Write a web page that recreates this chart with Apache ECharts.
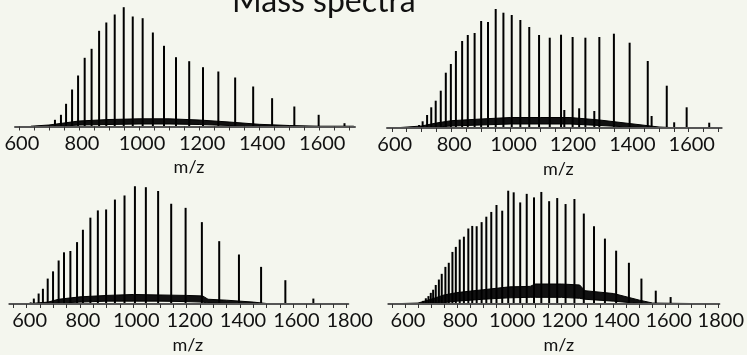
<!DOCTYPE html>
<html>
<head>
<meta charset="utf-8">
<script src="https://cdn.jsdelivr.net/npm/echarts@6/dist/echarts.min.js"></script>
<style>
  html, body { margin: 0; padding: 0; background: #f4f6ee; }
  #chart { width: 747px; height: 355px; }
</style>
</head>
<body>
<div id="chart"></div>
<script>
// 四个质谱图的数据 (m/z, 强度), 从图上读出来的
const p1Mz = [720, 740, 757, 777, 797, 819, 842, 867, 891, 919, 949, 979, 1012, 1046, 1083, 1123, 1167, 1213, 1264, 1320, 1380, 1443, 1517, 1598, 1684];
const p1Int = [6.7, 11.7, 22.7, 37, 51, 68.7, 77.7, 95.7, 104, 112, 119.3, 110, 108.3, 94, 80.7, 69.3, 65.3, 59.3, 55, 49, 40, 28.3, 20, 11.7, 3.3];
const p1NoiseMz = [640, 700, 750, 800, 900, 1000, 1100, 1200, 1300, 1400, 1500, 1600, 1715];
const p1NoiseLo = [0, 0, 0.5, 1.5, 2, 2.5, 2.5, 2, 1, 0.5, 0, 0, 0];
const p1NoiseHi = [0.3, 1.5, 3.5, 5.5, 7, 7.7, 7.7, 6.5, 4.5, 2.2, 1, 0.3, 0.3];

const p2Mz = [692, 704, 719, 733, 748, 765, 782, 799, 816, 837, 856, 879, 901, 924, 950, 976, 1004, 1033, 1063, 1096, 1132, 1170, 1181, 1209, 1231, 1252, 1282, 1299, 1348, 1401, 1462, 1475, 1526, 1551, 1593, 1669];
const p2Int = [3, 6.7, 13, 20.7, 27.3, 37.3, 55.3, 64, 77, 87, 93, 95, 107, 106, 119, 115.3, 113, 108, 101, 93, 90.3, 93.3, 18, 91, 19.7, 90.3, 17, 91, 94.3, 85.3, 67, 12, 42.3, 5.7, 20.7, 5.3];
const p2NoiseMz = [620, 700, 750, 800, 900, 1000, 1100, 1200, 1300, 1400, 1500, 1550, 1709];
const p2NoiseLo = [0, 0, 1, 2, 3, 4, 4, 4, 2.5, 1, 0, 0, 0];
const p2NoiseHi = [0.3, 2, 5, 7.3, 9, 10.5, 10.5, 10.5, 8, 4.5, 1, 0.3, 0.3];

const p3Mz = [615, 627, 645, 661, 679, 699, 720, 740, 764, 789, 811, 839, 867, 898, 931, 967, 1006, 1047, 1093, 1142, 1196, 1257, 1322, 1396, 1479, 1570, 1675];
const p3Int = [1.7, 5.7, 11, 16, 26.7, 34.3, 45.7, 54.3, 55.7, 65, 78, 90.7, 98.3, 99.3, 109.7, 114, 123.7, 122.7, 118.7, 105.3, 101, 86, 66, 52, 39, 25, 5.7];
const p3NoiseMz = [600, 680, 720, 800, 900, 1000, 1100, 1200, 1260, 1280, 1350, 1450, 1500, 1600, 1800];
const p3NoiseLo = [0, 0, 1, 2, 3, 3, 3, 2.5, 2, 1, 0.5, 0, 0, 0, 0];
const p3NoiseHi = [0.2, 2, 5, 7.5, 9, 10, 9.5, 9, 8.5, 5, 4, 2, 0.5, 0.2, 0.2];

const p4Mz = [670, 680, 690, 699, 708, 718, 730, 741, 755, 768, 782, 795, 810, 826, 843, 858, 875, 894, 912, 931, 951, 973, 996, 1017, 1042, 1067, 1095, 1123, 1153, 1184, 1216, 1250, 1286, 1325, 1367, 1410, 1459, 1507, 1562, 1619];
const p4Int = [3.3, 6, 8.3, 11.7, 15, 20, 25.7, 31.7, 39, 43.3, 54.7, 60, 67.7, 70.7, 79.3, 82, 81.7, 86, 91.7, 96.7, 104, 98, 119, 117.3, 106.7, 115.7, 112, 117.7, 108, 111.3, 105, 110.3, 95, 81.7, 68.7, 56, 43.3, 26.7, 14, 7.3];
const p4NoiseMz = [560, 650, 700, 750, 800, 900, 1000, 1080, 1100, 1200, 1270, 1290, 1400, 1500, 1550, 1700, 1804];
const p4NoiseLo = [0, 0, 0.5, 1.5, 3, 5, 6.5, 7, 7, 7, 6, 5, 3, 0.5, 0, 0, 0];
const p4NoiseHi = [0.3, 1, 5, 9.5, 12, 15, 18, 18.5, 21, 21, 20, 14, 11, 4, 1, 0.5, 0.3];

// 刻度
const ticksTop = [600, 650, 700, 750, 800, 850, 900, 950, 1000, 1050, 1100, 1150, 1200, 1250, 1300, 1350, 1400, 1450, 1500, 1550, 1600, 1650, 1700];
const labelsTop = [600, 800, 1000, 1200, 1400, 1600];
const ticksBottom = [550, 600, 650, 700, 750, 800, 850, 900, 950, 1000, 1050, 1100, 1150, 1200, 1250, 1300, 1350, 1400, 1450, 1500, 1550, 1600, 1650, 1700, 1750, 1800];
const labelsBottom = [600, 800, 1000, 1200, 1400, 1600, 1800];

const zip = (xs, ys) => xs.map((x, i) => [x, ys[i]]);
const FONT = "Lato";
const BG = "#f4f6ee";

const chart = echarts.init(document.getElementById("chart"));

// x轴
function makeX(gi, min, max, ticks, labels, namePad) {
  return {
    gridIndex: gi,
    type: "value",
    min: min,
    max: max,
    z: 5,
    name: "m/z",
    nameLocation: "middle",
    nameGap: 32,
    nameTextStyle: {
      fontFamily: FONT,
      fontSize: 18,
      color: "#111",
      padding: [0, 0, 0, namePad],
    },
    splitLine: { show: false },
    axisLine: { show: true, lineStyle: { color: "#555", width: 2 } },
    axisTick: {
      show: true,
      customValues: ticks,
      length: 4,
      lineStyle: { color: "#333", width: 1 },
    },
    axisLabel: {
      customValues: labels,
      formatter: (v) => String(v),
      fontFamily: FONT,
      fontSize: 20,
      color: "#111",
      margin: 7,
      padding: [0, 0, 0, 6],
    },
  };
}

function makeY(gi) {
  return { gridIndex: gi, type: "value", min: 0, max: 125, show: false };
}

// 每个面板三个系列: 噪声上沿(黑色填充), 噪声下沿(底色盖住), 峰
function panelSeries(gi, mz, inten, nMz, lo, hi) {
  return [
    {
      type: "line",
      xAxisIndex: gi,
      yAxisIndex: gi,
      data: zip(nMz, hi),
      showSymbol: false,
      lineStyle: { color: "#000", width: 1 },
      areaStyle: { color: "#111", opacity: 1 },
      z: 2,
    },
    {
      type: "line",
      xAxisIndex: gi,
      yAxisIndex: gi,
      data: zip(nMz, lo),
      showSymbol: false,
      lineStyle: { color: "#000", width: 1 },
      areaStyle: { color: BG, opacity: 1 },
      z: 3,
    },
    {
      type: "bar",
      xAxisIndex: gi,
      yAxisIndex: gi,
      data: zip(mz, inten),
      barWidth: 2,
      itemStyle: { color: "#000" },
      z: 4,
    },
  ];
}

const option = {
  backgroundColor: BG,
  animation: false,
  title: {
    text: "Mass spectra",
    left: 227,
    top: -19,
    textStyle: { fontFamily: FONT, fontSize: 32, fontWeight: "normal", color: "#111" },
  },
  grid: [
    { left: 15, top: 1.5, width: 340, height: 125 },
    { left: 387, top: 3, width: 334.7, height: 125 },
    { left: 9.3, top: 185, width: 339, height: 125 },
    { left: 388.3, top: 185, width: 332.7, height: 125 },
  ],
  xAxis: [
    makeX(0, 587, 1719, ticksTop, labelsTop, 8),
    makeX(1, 584, 1711, ticksTop, labelsTop, 8),
    makeX(2, 535, 1806, ticksBottom, labelsBottom, 18),
    makeX(3, 536, 1806, ticksBottom, labelsBottom, 10),
  ],
  yAxis: [makeY(0), makeY(1), makeY(2), makeY(3)],
  series: [].concat(
    panelSeries(0, p1Mz, p1Int, p1NoiseMz, p1NoiseLo, p1NoiseHi),
    panelSeries(1, p2Mz, p2Int, p2NoiseMz, p2NoiseLo, p2NoiseHi),
    panelSeries(2, p3Mz, p3Int, p3NoiseMz, p3NoiseLo, p3NoiseHi),
    panelSeries(3, p4Mz, p4Int, p4NoiseMz, p4NoiseLo, p4NoiseHi)
  ),
};

chart.setOption(option);
</script>
</body>
</html>
